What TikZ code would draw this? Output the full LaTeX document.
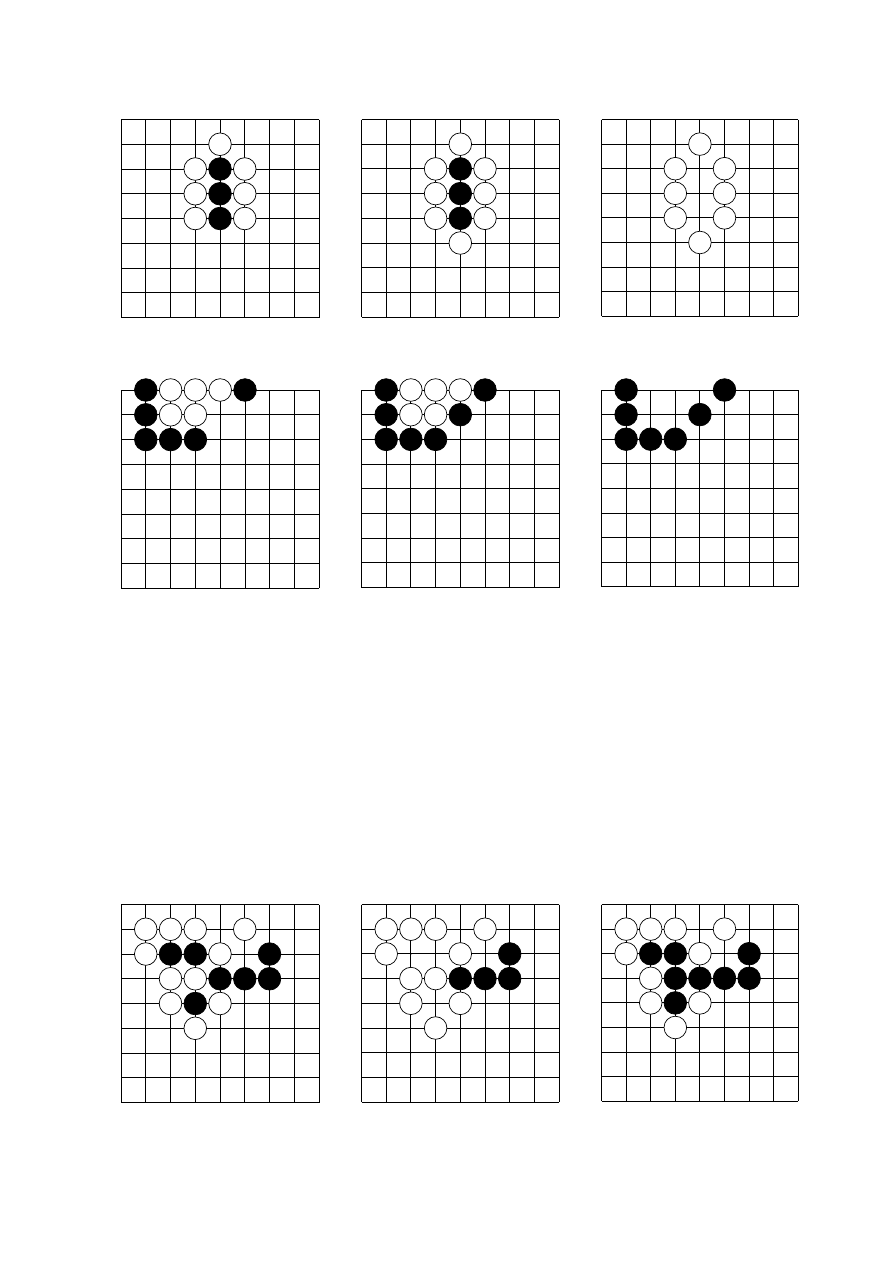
\documentclass[tikz,border=0pt]{standalone}
\usepackage{tikz}
\tikzset{
  gridline/.style={line width=0.9pt, black},
  stone/.style={circle, draw=black, line width=0.7pt, inner sep=0pt, minimum size=22.6pt},
  blackstone/.style={stone, fill=black},
  whitestone/.style={stone, fill=white},
}
% empty 8x8 board with its four star points
\newcommand{\goboard}{%
  \foreach \k in {0,...,8} {
    \draw[gridline] (\k,0) -- (\k,8);
    \draw[gridline] (0,\k) -- (8,\k);
  }
  \foreach \sx/\sy in {2/2,6/2,2/6,6/6}
    \fill (\sx,\sy) circle[radius=0.7pt];
}
% stones: board prefix, colour, list of x/y points
\newcommand{\stones}[3]{%
  \foreach \x/\y in {#3}
    \node[#2stone] (#1#2\x\y) at (\x,\y) {};
}

\begin{document}
\begin{tikzpicture}
    \useasboundingbox[fill=white] (0pt,0pt) rectangle (893pt,-1263pt);

    % Board A
    \begin{scope}[shift={(121pt,-119.5pt)}, x=24.75pt, y=-24.75pt]
        \goboard
        \stones{a}{white}{4/1,3/2,5/2,3/3,5/3,3/4,5/4}
        \stones{a}{black}{4/2,4/3,4/4}
    \end{scope}

    % Board B
    \begin{scope}[shift={(361.5pt,-119.5pt)}, x=24.7pt, y=-24.7pt]
        \goboard
        \stones{b}{white}{4/1,3/2,5/2,3/3,5/3,3/4,5/4,4/5}
        \stones{b}{black}{4/2,4/3,4/4}
    \end{scope}

    % Board C
    \begin{scope}[shift={(601.5pt,-119.5pt)}, x=24.6pt, y=-24.6pt]
        \goboard
        \stones{c}{white}{4/1,3/2,5/2,3/3,5/3,3/4,5/4,4/5}
    \end{scope}

    % Board D
    \begin{scope}[shift={(121pt,-390pt)}, x=24.8pt, y=-24.8pt]
        \goboard
        \stones{d}{white}{2/0,3/0,4/0,2/1,3/1}
        \stones{d}{black}{1/0,5/0,1/1,1/2,2/2,3/2}
    \end{scope}

    % Board E
    \begin{scope}[shift={(361.5pt,-390pt)}, x=24.7pt, y=-24.7pt]
        \goboard
        \stones{e}{white}{2/0,3/0,4/0,2/1,3/1}
        \stones{e}{black}{1/0,5/0,1/1,4/1,1/2,2/2,3/2}
    \end{scope}

    % Board F
    \begin{scope}[shift={(601.5pt,-390pt)}, x=24.6pt, y=-24.6pt]
        \goboard
        \stones{f}{black}{1/0,5/0,1/1,4/1,1/2,2/2,3/2}
    \end{scope}

    % Board G
    \begin{scope}[shift={(121pt,-904.5pt)}, x=24.75pt, y=-24.75pt]
        \goboard
        \stones{g}{white}{1/1,2/1,3/1,5/1,1/2,4/2,2/3,3/3,2/4,4/4,3/5}
        \stones{g}{black}{2/2,3/2,6/2,4/3,5/3,6/3,3/4}
    \end{scope}

    % Board H
    \begin{scope}[shift={(361.5pt,-904.5pt)}, x=24.7pt, y=-24.7pt]
        \goboard
        \stones{h}{white}{1/1,2/1,3/1,5/1,1/2,4/2,2/3,3/3,2/4,4/4,3/5}
        \stones{h}{black}{6/2,4/3,5/3,6/3}
    \end{scope}

    % Board I
    \begin{scope}[shift={(601.5pt,-904.5pt)}, x=24.6pt, y=-24.6pt]
        \goboard
        \stones{i}{white}{1/1,2/1,3/1,5/1,1/2,4/2,2/3,2/4,4/4,3/5}
        \stones{i}{black}{2/2,3/2,6/2,3/3,4/3,5/3,6/3,3/4}
    \end{scope}
\end{tikzpicture}
\end{document}
